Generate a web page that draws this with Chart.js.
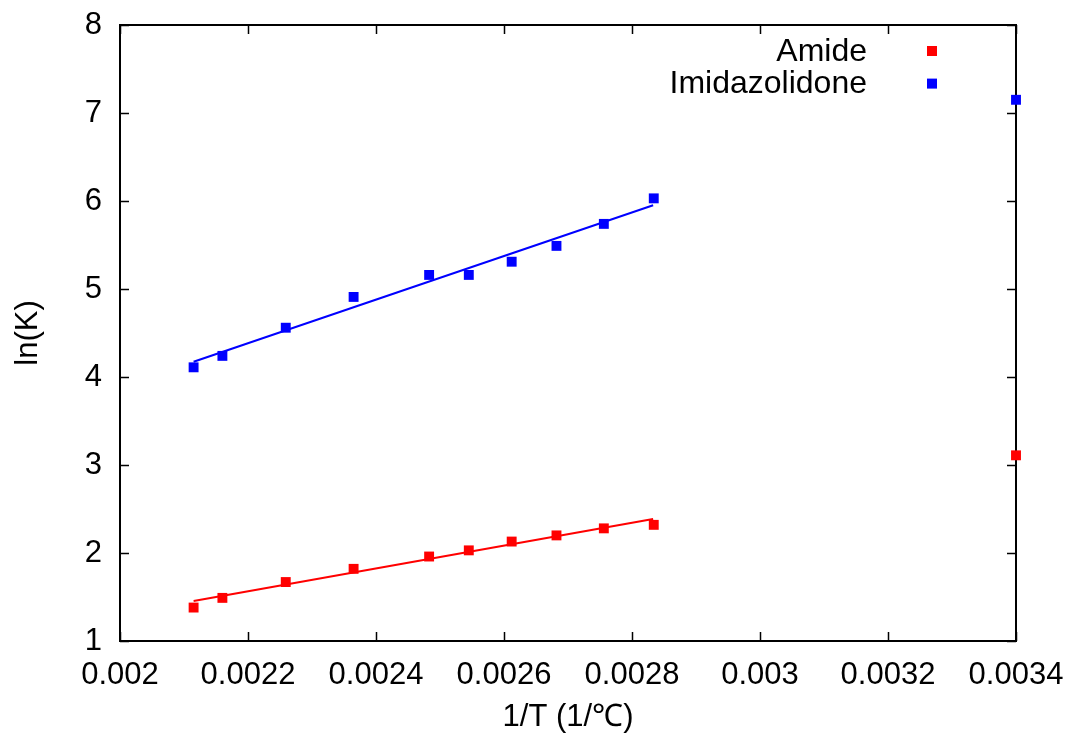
<!DOCTYPE html>
<html lang="en">
<head>
  <meta charset="UTF-8">
  <title>ln(K) vs 1/T</title>
  <script src="https://cdn.jsdelivr.net/npm/chart.js"></script>
  <style>
    body {
      margin: 0;
      background: #fff;
    }
  </style>
</head>
<body>
  <canvas id="lnkChart" width="1072" height="740"></canvas>

  <script>
    // data
    const invT = [0.002115, 0.002160, 0.002259, 0.002365, 0.002483, 0.002545, 0.002612, 0.002682, 0.002756, 0.002834, 0.0034];
    const amide = [1.38, 1.49, 1.67, 1.82, 1.96, 2.03, 2.13, 2.20, 2.28, 2.32, 3.11];
    const imidazolidone = [4.11, 4.24, 4.56, 4.91, 5.16, 5.16, 5.31, 5.49, 5.74, 6.03, 7.15];

    // linear fit end points
    const fitX = [0.002115, 0.002833];
    const amideFit = [1.455, 2.386];
    const imidazolidoneFit = [4.174, 5.951];

    const xTickLabels = ['0.002', '0.0022', '0.0024', '0.0026', '0.0028', '0.003', '0.0032', '0.0034'];
    const yTickLabels = ['1', '2', '3', '4', '5', '6', '7', '8'];

    const FONT = { family: "'Liberation Sans', Arial, sans-serif", size: 31 };

    const toPoints = (xs, ys) => xs.map((v, i) => ({ x: v, y: ys[i] }));

    // gnuplot style box with inward ticks
    const framePlugin = {
      id: 'frame',
      beforeDatasetsDraw(chart) {
        const { ctx, chartArea: a, scales: { x, y } } = chart;
        ctx.save();
        ctx.strokeStyle = '#000';
        ctx.lineWidth = 1.5;
        ctx.beginPath();
        x.ticks.forEach(t => {
          const px = Math.round(x.getPixelForValue(t.value)) + 0.5;
          ctx.moveTo(px, a.bottom); ctx.lineTo(px, a.bottom - 9);
          ctx.moveTo(px, a.top); ctx.lineTo(px, a.top + 9);
        });
        y.ticks.forEach(t => {
          const py = Math.round(y.getPixelForValue(t.value)) + 0.5;
          ctx.moveTo(a.left, py); ctx.lineTo(a.left + 9, py);
          ctx.moveTo(a.right, py); ctx.lineTo(a.right - 9, py);
        });
        ctx.stroke();
        ctx.lineWidth = 2;
        ctx.strokeRect(a.left, a.top, a.right - a.left, a.bottom - a.top);
        ctx.restore();
      }
    };

    // key in the top right corner, text then marker
    const keyPlugin = {
      id: 'key',
      afterDraw(chart) {
        const { ctx, chartArea: a } = chart;
        const rows = chart.data.datasets.filter(d => d.inKey);
        ctx.save();
        ctx.font = '32px ' + FONT.family;
        ctx.textAlign = 'right';
        ctx.textBaseline = 'middle';
        rows.forEach((d, i) => {
          const yc = a.top + 26 + i * 32.6;
          ctx.fillStyle = '#000';
          ctx.fillText(d.label, a.right - 149, yc + 1);
          ctx.fillStyle = d.backgroundColor;
          ctx.fillRect(a.right - 89, yc - 5, 10, 10);
        });
        ctx.restore();
      }
    };

    new Chart(document.getElementById('lnkChart'), {
      type: 'scatter',
      data: {
        datasets: [
          {
            label: 'Amide',
            inKey: true,
            data: toPoints(invT, amide),
            backgroundColor: '#ff0000',
            borderColor: '#ff0000',
            pointStyle: 'rect',
            pointRadius: 7,
            pointBorderWidth: 0,
            clip: false
          },
          {
            label: 'Imidazolidone',
            inKey: true,
            data: toPoints(invT, imidazolidone),
            backgroundColor: '#0000ff',
            borderColor: '#0000ff',
            pointStyle: 'rect',
            pointRadius: 7,
            pointBorderWidth: 0,
            clip: false
          },
          {
            label: 'Amide fit',
            data: toPoints(fitX, amideFit),
            showLine: true,
            borderColor: '#ff0000',
            borderWidth: 2,
            pointRadius: 0
          },
          {
            label: 'Imidazolidone fit',
            data: toPoints(fitX, imidazolidoneFit),
            showLine: true,
            borderColor: '#0000ff',
            borderWidth: 2,
            pointRadius: 0
          }
        ]
      },
      options: {
        responsive: false,
        animation: false,
        layout: { padding: { top: 25, right: 56, left: 0, bottom: 0 } },
        plugins: {
          legend: { display: false },
          tooltip: { enabled: false }
        },
        scales: {
          x: {
            type: 'linear',
            min: 0.002,
            max: 0.0034,
            afterFit(s) { s.height = 99; s.paddingLeft = 0; s.paddingRight = 0; },
            grid: { display: false, drawTicks: false },
            border: { display: false },
            ticks: {
              stepSize: 0.0002,
              autoSkip: false,
              maxRotation: 0,
              padding: 16,
              color: '#000',
              font: FONT,
              callback: (v, i) => xTickLabels[i]
            },
            title: {
              display: true,
              text: '1/T (1/℃)',
              color: '#000',
              font: FONT,
              padding: { top: 0, bottom: 4 }
            }
          },
          y: {
            min: 1,
            max: 8,
            afterFit(s) { s.width = 120; s.paddingTop = 0; s.paddingBottom = 0; },
            grid: { display: false, drawTicks: false },
            border: { display: false },
            ticks: {
              stepSize: 1,
              padding: 18,
              color: '#000',
              font: FONT,
              callback: (v, i) => yTickLabels[i]
            },
            title: {
              display: true,
              text: 'ln(K)',
              color: '#000',
              font: FONT,
              padding: { top: 10, bottom: 0 }
            }
          }
        }
      },
      plugins: [framePlugin, keyPlugin]
    });
  </script>
</body>
</html>
